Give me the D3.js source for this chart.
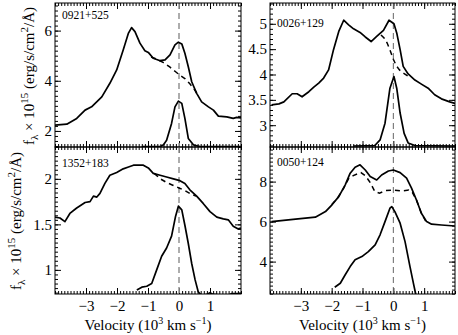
<!DOCTYPE html>
<html>
<head>
<meta charset="utf-8">
<script src="https://cdn.jsdelivr.net/npm/d3@7"></script>
<style>
    body { margin: 0; background: #fff; }
    svg text { font-family: 'Liberation Serif', 'Times New Roman', serif; fill: #000; }
    .frame { fill: none; stroke: #000; stroke-width: 1; }
    .tick line { stroke: #000; }
    .total, .narrow { fill: none; stroke: #000; stroke-width: 1.7; stroke-linejoin: round; }
    .broad { fill: none; stroke: #000; stroke-width: 1.5; stroke-dasharray: 5,4; }
    .zero { stroke: #999; stroke-width: 1.6; stroke-dasharray: 6,4; }
    .zero.thin { stroke: #666; stroke-width: 1; }
</style>
</head>
<body>
<div id="chart"></div>
<script>
// panel names
const names = ['0921+525', '0026+129', '1352+183', '0050+124'];

// velocity (10^3 km/s), flux (1e-15 erg/s/cm2/A)
const total0921 = [[-4.0,2.23],[-3.62,2.27],[-3.3,2.5],[-3.03,2.83],[-2.82,2.96],[-2.49,3.36],[-2.23,3.9],[-2.01,4.43],[-1.8,5.23],[-1.63,5.9],[-1.53,6.12],[-1.42,5.96],[-1.26,5.5],[-1.1,5.2],[-0.99,5.13],[-0.83,4.9],[-0.61,4.8],[-0.45,4.83],[-0.29,5.03],[-0.13,5.43],[-0.02,5.54],[0.09,5.47],[0.19,5.1],[0.3,4.56],[0.41,3.96],[0.57,3.5],[0.73,3.16],[0.95,2.96],[1.11,2.83],[1.27,2.59],[1.54,2.56],[1.75,2.5],[1.86,2.54],[2.0,2.52]];
const broad0921 = [[-0.9,4.95],[-0.7,4.85],[-0.5,4.72],[-0.3,4.55],[-0.1,4.35],[0.05,4.2],[0.2,4.08],[0.35,3.88],[0.5,3.65],[0.6,3.45]];
const narrow0921 = [[-1.2,1.38],[-0.6,1.38],[-0.5,1.45],[-0.4,1.63],[-0.24,2.3],[-0.13,2.96],[-0.02,3.19],[0.09,3.1],[0.19,2.5],[0.3,1.7],[0.47,1.44],[0.68,1.38],[2.0,1.38]];

const total0026 = [[-3.95,3.4],[-3.71,3.42],[-3.55,3.46],[-3.28,3.62],[-3.12,3.62],[-2.96,3.56],[-2.74,3.66],[-2.58,3.75],[-2.42,3.83],[-2.26,3.93],[-2.1,4.09],[-1.94,4.49],[-1.77,4.85],[-1.61,5.07],[-1.45,4.98],[-1.29,4.9],[-1.08,4.83],[-0.91,4.74],[-0.72,4.65],[-0.54,4.75],[-0.32,4.87],[-0.14,5.07],[0.02,5.0],[0.11,4.82],[0.22,4.49],[0.32,4.16],[0.48,4.01],[0.7,3.89],[0.91,3.81],[1.13,3.73],[1.34,3.6],[1.56,3.52],[1.83,3.46],[2.0,3.43]];
const broad0026 = [[-0.4,4.78],[-0.3,4.72],[-0.2,4.62],[-0.1,4.47],[0.0,4.3],[0.1,4.17],[0.2,4.09],[0.3,4.04],[0.45,3.98],[0.55,3.94]];
const narrow0026 = [[-1.3,2.59],[-0.6,2.6],[-0.43,2.71],[-0.27,3.04],[-0.11,3.73],[0.02,3.96],[0.11,3.73],[0.22,3.24],[0.35,2.84],[0.48,2.65],[0.7,2.6],[2.0,2.59]];

const total1352 = [[-4.0,1.58],[-3.84,1.57],[-3.68,1.53],[-3.52,1.62],[-3.3,1.68],[-3.03,1.74],[-2.87,1.75],[-2.76,1.81],[-2.65,1.8],[-2.55,1.84],[-2.39,1.95],[-2.23,2.04],[-2.01,2.07],[-1.8,2.11],[-1.63,2.13],[-1.47,2.15],[-1.15,2.15],[-0.99,2.12],[-0.83,2.06],[-0.61,2.04],[-0.4,2.02],[-0.18,2.0],[0.03,1.98],[0.19,1.95],[0.35,1.88],[0.57,1.81],[0.78,1.73],[1.0,1.64],[1.22,1.58],[1.43,1.56],[1.59,1.55],[1.75,1.48],[1.91,1.45],[2.0,1.46]];
const broad1352 = [[-0.8,2.06],[-0.6,2.0],[-0.4,1.96],[-0.2,1.93],[0.0,1.9],[0.2,1.87],[0.4,1.83],[0.55,1.81]];
const narrow1352 = [[-1.36,0.78],[-1.2,0.81],[-1.04,0.82],[-0.88,0.85],[-0.72,1.0],[-0.56,1.15],[-0.4,1.24],[-0.24,1.37],[-0.11,1.59],[-0.02,1.7],[0.09,1.66],[0.19,1.49],[0.3,1.29],[0.41,1.07],[0.52,0.89],[0.62,0.76],[0.72,0.72],[0.9,0.73],[1.0,0.75],[1.1,0.73],[1.6,0.72],[1.7,0.74],[2.0,0.74]];

const total0050 = [[-3.95,6.0],[-3.17,6.12],[-2.53,6.22],[-2.2,6.5],[-1.99,6.84],[-1.77,7.25],[-1.56,7.84],[-1.4,8.42],[-1.24,8.72],[-1.08,8.84],[-0.91,8.58],[-0.75,8.25],[-0.54,8.08],[-0.38,8.33],[-0.16,8.53],[0.0,8.58],[0.22,8.45],[0.43,8.17],[0.59,7.67],[0.75,7.08],[0.91,6.42],[1.08,6.0],[1.24,5.87],[1.56,5.83],[1.99,5.78]];
const broad0050 = [[-2.0,6.84],[-1.8,7.2],[-1.6,7.7],[-1.45,8.15],[-1.3,8.3],[-1.15,8.4],[-1.05,8.45],[-0.9,8.28],[-0.75,7.95],[-0.6,7.5],[-0.45,7.42],[-0.25,7.55],[0.0,7.58],[0.25,7.53],[0.5,7.58],[0.62,7.45],[0.75,7.08],[0.9,6.45],[1.05,6.02]];
const narrow0050 = [[-1.9,2.72],[-1.72,2.92],[-1.56,3.34],[-1.4,3.75],[-1.24,4.09],[-1.02,4.25],[-0.81,4.5],[-0.59,4.84],[-0.43,5.34],[-0.27,6.0],[-0.11,6.67],[-0.05,6.75],[0.05,6.5],[0.22,5.92],[0.38,5.0],[0.54,3.75],[0.65,2.92],[0.72,2.42],[0.76,2.1]];

// axis ticks
const xTicks = [-3, -2, -1, 0, 1];
const yTicks0921 = [2, 4, 6];
const yTicks0026 = [3, 3.5, 4, 4.5, 5];
const yTicks1352 = [1, 1.5, 2];
const yTicks0050 = [4, 6, 8];

const width = 458, height = 335;
const xDomain = [-4, 2];

const fmtInt = d3.format('d');
const fmtHalf = d => d % 1 ? d3.format('.1f')(d) : fmtInt(d);

// panel layout
const panels = [
    { name: names[0], x0: 55, x1: 241, y0: 3, y1: 147, yDomain: [1.36, 7.1], yTicks: yTicks0921, minor: 0.2, fmt: fmtInt,
      total: total0921, broad: broad0921, narrow: narrow0921, labelY: 19, xLabels: false, thinZero: false },
    { name: names[1], x0: 270, x1: 455, y0: 3, y1: 147, yDomain: [2.57, 5.41], yTicks: yTicks0026, minor: 0.1, fmt: fmtHalf,
      total: total0026, broad: broad0026, narrow: narrow0026, labelY: 27, xLabels: false, thinZero: true },
    { name: names[2], x0: 55, x1: 241, y0: 147, y1: 294, yDomain: [0.735, 2.35], yTicks: yTicks1352, minor: 0.05, fmt: fmtHalf,
      total: total1352, broad: broad1352, narrow: narrow1352, labelY: 167, xLabels: true, thinZero: false },
    { name: names[3], x0: 270, x1: 455, y0: 147, y1: 294, yDomain: [2.38, 9.73], yTicks: yTicks0050, minor: 0.2, fmt: fmtInt,
      total: total0050, broad: broad0050, narrow: narrow0050, labelY: 166, xLabels: true, thinZero: true }
];

const svg = d3.select('#chart').append('svg')
    .attr('width', width)
    .attr('height', height);

function range(a, b, step) {
    const out = [];
    const n = Math.floor((b - a) / step + 1e-6);
    for (let i = 0; i <= n; i++) out.push(+(a + i * step).toFixed(4));
    return out;
}

panels.forEach((p, i) => {
    const x = d3.scaleLinear().domain(xDomain).range([p.x0, p.x1]);
    const y = d3.scaleLinear().domain(p.yDomain).range([p.y1, p.y0]);

    const g = svg.append('g');

    const clipId = 'clip' + i;
    svg.append('clipPath').attr('id', clipId)
        .append('rect')
        .attr('x', p.x0).attr('y', p.y0)
        .attr('width', p.x1 - p.x0).attr('height', p.y1 - p.y0);

    const xMinor = range(-4, 2, 0.1);
    const yMinor = range(Math.ceil(p.yDomain[0] / p.minor) * p.minor, p.yDomain[1], p.minor);

    // ticks on all four sides, pointing inward
    const axes = [
        { axis: d3.axisBottom(x).tickValues(xTicks).tickSize(-6).tickFormat(fmtInt), minorAxis: d3.axisBottom(x).tickValues(xMinor).tickSize(-3), t: `translate(0,${p.y1})`, labels: p.xLabels },
        { axis: d3.axisTop(x).tickValues(xTicks).tickSize(-6), minorAxis: d3.axisTop(x).tickValues(xMinor).tickSize(-3), t: `translate(0,${p.y0})`, labels: false },
        { axis: d3.axisLeft(y).tickValues(p.yTicks).tickSize(-6).tickFormat(p.fmt), minorAxis: d3.axisLeft(y).tickValues(yMinor).tickSize(-3), t: `translate(${p.x0},0)`, labels: true },
        { axis: d3.axisRight(y).tickValues(p.yTicks).tickSize(-6), minorAxis: d3.axisRight(y).tickValues(yMinor).tickSize(-3), t: `translate(${p.x1},0)`, labels: false }
    ];

    axes.forEach((a, k) => {
        const ag = g.append('g').attr('transform', a.t).call(a.axis);
        ag.select('.domain').remove();
        if (!a.labels) {
            ag.selectAll('text').remove();
        } else {
            ag.selectAll('text')
                .attr('font-size', 15)
                .attr('font-family', null);
            if (k === 0) ag.selectAll('text').attr('y', 6);
        }
        const mg = g.append('g').attr('transform', a.t).call(a.minorAxis);
        mg.select('.domain').remove();
        mg.selectAll('text').remove();
    });

    // zero velocity marker
    g.append('line')
        .attr('class', p.thinZero ? 'zero thin' : 'zero')
        .attr('x1', x(0)).attr('x2', x(0))
        .attr('y1', p.y0).attr('y2', p.y1);

    const line = d3.line()
        .x(d => x(d[0]))
        .y(d => y(d[1]));

    const lg = g.append('g').attr('clip-path', `url(#${clipId})`);
    lg.append('path').attr('class', 'broad').attr('d', line(p.broad));
    lg.append('path').attr('class', 'total').attr('d', line(p.total));
    lg.append('path').attr('class', 'narrow').attr('d', line(p.narrow));

    g.append('rect')
        .attr('class', 'frame')
        .attr('x', p.x0).attr('y', p.y0)
        .attr('width', p.x1 - p.x0).attr('height', p.y1 - p.y0);

    g.append('text')
        .attr('x', p.x0 + 7)
        .attr('y', p.labelY)
        .attr('font-size', 11.5)
        .text(p.name);

    if (p.xLabels) {
        const t = g.append('text')
            .attr('x', (p.x0 + p.x1) / 2)
            .attr('y', 330)
            .attr('text-anchor', 'middle')
            .attr('font-size', 15);
        t.append('tspan').text('Velocity (10');
        t.append('tspan').attr('dy', -6).attr('font-size', 10).text('3');
        t.append('tspan').attr('dy', 6).text(' km s');
        t.append('tspan').attr('dy', -6).attr('font-size', 10).text('\u22121');
        t.append('tspan').attr('dy', 6).text(')');
    }
});

// y axis titles on the left
function yTitle(cx, cy) {
    const t = svg.append('text')
        .attr('transform', `translate(${cx},${cy}) rotate(-90)`)
        .attr('text-anchor', 'middle')
        .attr('font-size', 15);
    t.append('tspan').text('f');
    t.append('tspan').attr('dy', 4).attr('font-size', 11).text('\u03bb');
    t.append('tspan').attr('dy', -4).text(' \u00d7 10');
    t.append('tspan').attr('dy', -6).attr('font-size', 11).text('15');
    t.append('tspan').attr('dy', 6).text(' (erg/s/cm');
    t.append('tspan').attr('dy', -6).attr('font-size', 11).text('2');
    t.append('tspan').attr('dy', 6).text('/\u00c5)');
}
yTitle(34, 76);
yTitle(21, 221);
</script>
</body>
</html>
